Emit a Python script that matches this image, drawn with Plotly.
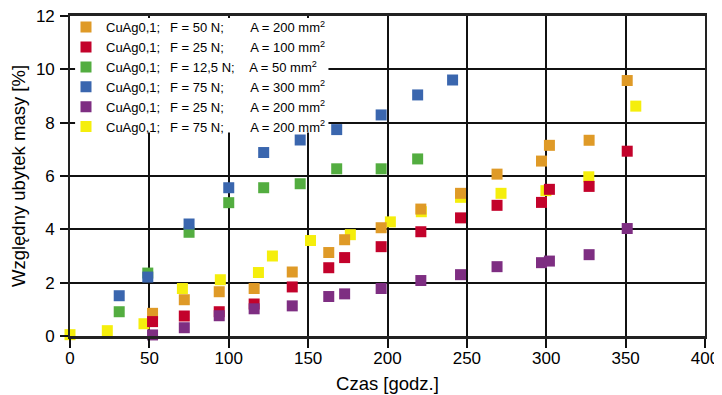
import plotly.graph_objects as go

# ---- data ----
t_main = [52, 72, 94, 116, 140, 163, 173, 196, 221, 246, 269, 297, 302, 327, 351]
orange_vals = [0.85, 1.36, 1.66, 1.78, 2.40, 3.13, 3.61, 4.06, 4.76, 5.35, 6.07, 6.56, 7.15, 7.34, 9.58]
red_vals = [0.54, 0.75, 0.91, 1.20, 1.84, 2.56, 2.94, 3.35, 3.91, 4.43, 4.90, 5.01, 5.50, 5.61, 6.93]
purple_vals = [0.04, 0.31, 0.76, 1.02, 1.13, 1.48, 1.58, 1.78, 2.08, 2.30, 2.60, 2.75, 2.81, 3.05, 4.03]

t_blue = [31, 49, 75, 100, 122, 145, 168, 196, 219, 241]
blue_vals = [1.51, 2.21, 4.20, 5.56, 6.88, 7.35, 7.74, 8.29, 9.04, 9.60]

t_green = [31, 49, 75, 100, 122, 145, 168, 196, 219]
green_vals = [0.91, 2.36, 3.89, 5.00, 5.56, 5.71, 6.27, 6.27, 6.64]

t_yellow = [0, 23.5, 46.6, 70.8, 94.7, 118.7, 127.5, 151.5, 176.6, 201.8, 221.3, 246, 271.5, 299.8, 326.8, 356.4]
yellow_vals = [0.05, 0.20, 0.46, 1.78, 2.11, 2.38, 3.00, 3.58, 3.80, 4.28, 4.66, 5.20, 5.35, 5.45, 5.97, 8.62]

x_ticks = [0, 50, 100, 150, 200, 250, 300, 350, 400]
y_ticks = [0, 2, 4, 6, 8, 10, 12]

NB = "\u00a0"
THIN = "\u2009"
HAIR = "\u200a"
def label(f_txt, f_pad, a_txt):
    return "CuAg0,1;" + NB * 2 + THIN + f_txt + f_pad + a_txt + " mm<sup>2</sup>"

PAD_STD = NB * 6 + THIN + HAIR * 2
PAD_125 = NB * 3 + THIN + HAIR

series = [
    # (name, x, y, color, legendrank) in drawing order
    (label("F = 75 N;", PAD_STD, "A = 200"), t_yellow, yellow_vals, "#F5EE0C", 6),
    (label("F = 50 N;", PAD_STD, "A = 200"), t_main, orange_vals, "#DF9A27", 1),
    (label("F = 25 N;", PAD_STD, "A = 100"), t_main, red_vals, "#C3022B", 2),
    (label("F = 12,5 N;", PAD_125, "A = 50"), t_green, green_vals, "#53AD40", 3),
    (label("F = 75 N;", PAD_STD, "A = 300"), t_blue, blue_vals, "#3A66AE", 4),
    (label("F = 25 N;", PAD_STD, "A = 200"), t_main, purple_vals, "#7E2E82", 5),
]

FONT = "Liberation Sans, Arial, Helvetica, sans-serif"

fig = go.Figure()
for name, xs, ys, col, rank in series:
    fig.add_trace(go.Scatter(
        x=xs, y=ys, mode="markers", name=name, legendrank=rank,
        marker=dict(symbol="square", size=11, color=col, line=dict(width=0)),
        cliponaxis=False,
    ))

# white panel behind the legend text (hides grid lines inside the legend area)
fig.add_shape(type="rect", xref="paper", yref="paper",
              x0=0.008, x1=0.407, y0=0.636, y1=0.994,
              fillcolor="white", line=dict(width=0), layer="above")

# the page body adds an 8 px offset, so the figure is 8 px smaller than the window
fig.update_layout(
    width=714, height=387,
    margin=dict(l=62, r=17, t=8, b=59, autoexpand=False),
    paper_bgcolor="white", plot_bgcolor="white",
    font=dict(family=FONT, color="black"),
    showlegend=True,
    legend=dict(
        x=-0.0063, y=1.012, xanchor="left", yanchor="top",
        bgcolor="rgba(0,0,0,0)", borderwidth=0,
        font=dict(family=FONT, size=13, color="black"),
        itemclick=False,
    ),
)

fig.update_xaxes(
    range=[0, 400], tickvals=x_ticks, ticktext=[str(v) for v in x_ticks],
    showgrid=True, gridcolor="#111111", gridwidth=1.6,
    showline=True, linecolor="#222222", linewidth=2.5, mirror=True,
    ticks="outside", ticklen=9, tickwidth=1.6, tickcolor="#111111",
    tickfont=dict(family=FONT, size=17, color="black"),
    ticklabelstandoff=-4, ticklabeloverflow="allow",
    zeroline=False, automargin=False,
    title=dict(text="Czas [godz.]", font=dict(family=FONT, size=18.5, color="black"), standoff=10),
)
fig.update_yaxes(
    range=[0, 12], tickvals=y_ticks, ticktext=[str(v) for v in y_ticks],
    showgrid=True, gridcolor="#111111", gridwidth=1.6,
    showline=True, linecolor="#222222", linewidth=1.6, mirror=True,
    ticks="outside", ticklen=8, tickwidth=1.6, tickcolor="#111111",
    tickfont=dict(family=FONT, size=17, color="black"),
    ticklabelstandoff=2, ticklabeloverflow="allow",
    zeroline=False, automargin=False,
    title=dict(text="Względny ubytek masy [%]", font=dict(family=FONT, size=18.5, color="black"), standoff=8),
)

fig.write_html("out.html")
